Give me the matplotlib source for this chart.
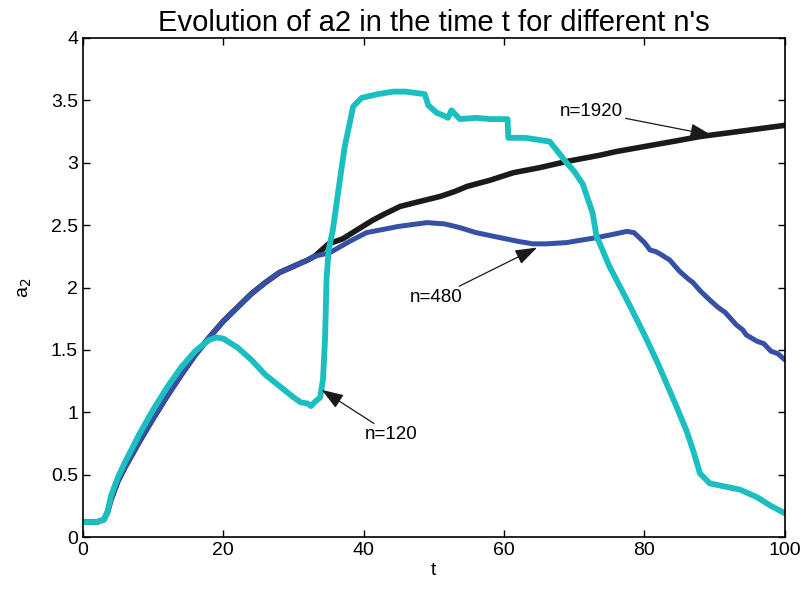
import matplotlib
matplotlib.use("Agg")
from matplotlib import pyplot as plt

plt.rcParams['font.family'] = ['Liberation Sans', 'DejaVu Sans']

# common start of the n=480 and n=1920 runs (they overlap up to t~33)
t_base = [0, 1, 2, 3, 3.5, 4, 5, 6, 8, 10, 12, 14, 16, 18, 20, 22, 24, 26, 28, 30, 32, 33]
a_base = [0.12, 0.12, 0.12, 0.14, 0.2, 0.3, 0.45, 0.56, 0.76, 0.95, 1.13, 1.30, 1.46,
          1.60, 1.73, 1.84, 1.95, 2.04, 2.12, 2.17, 2.22, 2.25]

# n=480
t_480 = [35.2, 38, 40.4, 45, 49, 51.5, 53.7, 56, 59.4, 62, 64.1, 66, 68.9, 71, 73.2, 75,
         77.5, 78.5, 80.0, 80.8, 81.5, 82.2, 83.6, 85, 86.2, 86.9, 88, 89.3, 90.5, 91.5,
         93.1, 94.0, 94.5, 96, 97, 98, 99, 100]
a_480 = [2.28, 2.37, 2.44, 2.49, 2.52, 2.51, 2.48, 2.44, 2.40, 2.37, 2.35, 2.35, 2.36, 2.38,
         2.40, 2.42, 2.45, 2.44, 2.36, 2.30, 2.29, 2.27, 2.22, 2.13, 2.07, 2.04, 1.97, 1.90,
         1.84, 1.80, 1.70, 1.66, 1.62, 1.57, 1.55, 1.49, 1.47, 1.42]

# n=1920
t_1920 = [35, 37, 39, 41.3, 43, 45.2, 48, 50.9, 53, 54.7, 58, 61.3, 65, 68.9, 73.6, 76,
          80, 84, 87.9, 92, 96, 100]
a_1920 = [2.35, 2.39, 2.46, 2.54, 2.59, 2.65, 2.69, 2.73, 2.77, 2.81, 2.86, 2.92, 2.96,
          3.01, 3.06, 3.09, 3.13, 3.17, 3.21, 3.24, 3.27, 3.30]

# n=120
t_120 = [0, 1, 2, 3, 3.5, 4, 5, 6, 8, 10, 12, 14, 16, 18, 19, 20, 22, 24, 26, 28, 30, 31,
         32, 32.5, 33, 33.8, 34.2, 34.5, 34.7, 35.0, 35.6, 36.6, 37.3, 38.5, 39.7, 42, 44.2,
         46, 48.7, 49.2, 50.4, 51.3, 52, 52.5, 53.7, 56, 58, 60.5, 60.6, 63, 66.5, 67.5,
         68.9, 70, 71.2, 72.6, 73.2, 73.5, 75, 77.5, 80, 82, 84.6, 86, 86.9, 87.9, 89.3, 91,
         93.6, 96, 98, 100]
a_120 = [0.12, 0.12, 0.12, 0.14, 0.2, 0.33, 0.48, 0.6, 0.82, 1.02, 1.2, 1.36, 1.49, 1.58,
         1.60, 1.59, 1.52, 1.42, 1.30, 1.21, 1.12, 1.08, 1.07, 1.05, 1.08, 1.12, 1.26, 1.6,
         2.06, 2.3, 2.46, 2.86, 3.13, 3.45, 3.52, 3.55, 3.57, 3.57, 3.55, 3.46, 3.40, 3.38,
         3.36, 3.42, 3.35, 3.36, 3.35, 3.35, 3.20, 3.20, 3.17, 3.10, 3.00, 2.93, 2.83, 2.60,
         2.40, 2.37, 2.17, 1.90, 1.62, 1.38, 1.04, 0.85, 0.70, 0.51, 0.43, 0.41, 0.38, 0.32,
         0.25, 0.19]

x_ticks = [0, 20, 40, 60, 80, 100]
y_ticks = [0, 0.5, 1, 1.5, 2, 2.5, 3, 3.5, 4]

fig = plt.figure(figsize=(8.05, 5.9), dpi=100)
ax = fig.add_axes([0.103, 0.0898, 0.872, 0.8458])

ax.plot(t_base + t_1920, a_base + a_1920, c='#1a1a1a', lw=4.0, solid_capstyle='round')
ax.plot(t_base + t_480, a_base + a_480, c='#3550a6', lw=3.6, solid_capstyle='round')
ax.plot(t_120, a_120, c='#1bbfbf', lw=4.2, solid_capstyle='round')

arrow = dict(arrowstyle='-|>,head_length=1.0,head_width=0.35', color='#1a1a1a', lw=0.9,
             shrinkA=0, shrinkB=0)
ax.annotate('n=1920', xy=(89.6, 3.22), xytext=(67.9, 3.41), fontsize=13.5,
            va='center', ha='left', arrowprops=arrow)
ax.annotate('n=480', xy=(64.7, 2.32), xytext=(46.6, 1.92), fontsize=13.5,
            va='center', ha='left', arrowprops=arrow)
ax.annotate('n=120', xy=(34.0, 1.18), xytext=(40.2, 0.82), fontsize=13.5,
            va='center', ha='left', arrowprops=arrow)

ax.set_xlim(0, 100)
ax.set_ylim(0, 4)
ax.set_xticks(x_ticks)
ax.set_yticks(y_ticks)
ax.set_yticklabels(['%g' % v for v in y_ticks])
ax.tick_params(direction='in', top=True, right=True, labelsize=14, length=5, width=1)
for s in ax.spines.values():
    s.set_linewidth(1.2)

ax.set_title("Evolution of a2 in the time t for different n's", fontsize=21, pad=5)
ax.set_xlabel('t', fontsize=14, labelpad=2)
ax.set_ylabel('a$_2$', fontsize=14, labelpad=12)

fig.savefig('out.png', dpi=100)
